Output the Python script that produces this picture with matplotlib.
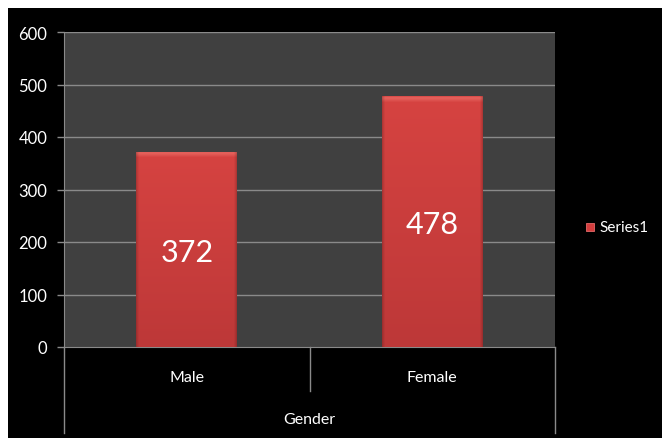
import numpy as np
import matplotlib
matplotlib.use("Agg")
import matplotlib.pyplot as plt
from matplotlib.patches import Rectangle
from matplotlib.colors import to_rgb

categories = ["Male", "Female"]
values = [372, 478]
group_label = "Gender"
series_name = "Series1"
y_ticks = [0, 100, 200, 300, 400, 500, 600]

W, H = 662, 439
fig = plt.figure(figsize=(W / 100, H / 100), dpi=100, facecolor="white")
plt.rcParams["font.family"] = ["Lato", "DejaVu Sans"]

# black chart background, leaving a thin white margin at top and left
fig.add_artist(Rectangle((8 / W, 0), 1 - 8 / W, 1 - 9 / H,
                         transform=fig.transFigure, facecolor="black",
                         edgecolor="none", zorder=-10))

left, right, top, bottom = 64, 555, 33, 348
ax = fig.add_axes([left / W, 1 - bottom / H, (right - left) / W, (bottom - top) / H])
ax.set_facecolor("#404040")
grid_c = "#8a8a8a"

x = np.arange(len(categories))
ax.set_xlim(-0.5, len(categories) - 0.5)
ax.set_ylim(0, 600)
ax.set_yticks(y_ticks)
ax.set_yticklabels([str(t) for t in y_ticks])
ax.tick_params(axis="y", colors=grid_c, labelcolor="white", labelsize=12,
               length=5, width=1, pad=7)
ax.set_xticks([])
for t in y_ticks[1:]:
    ax.axhline(t, color=grid_c, lw=1, zorder=1)
for s in ["top", "right"]:
    ax.spines[s].set_visible(False)
ax.spines["left"].set_color(grid_c)
ax.spines["bottom"].set_color(grid_c)

px_per_unit = (bottom - top) / 600.0

def bar_shading(height_px, width_px):
    """Red fill: gentle vertical gradient, a thin bright bevel at the top,
    slightly darker side edges."""
    rows = max(int(round(height_px)), 8)
    cols = max(int(round(width_px)), 8)
    lo, hi = np.array(to_rgb("#bd3838")), np.array(to_rgb("#d64341"))
    t = np.linspace(0, 1, rows)[:, None]
    img = lo + (hi - lo) * t[..., None] * np.ones((1, cols, 1))
    bevel = np.array(to_rgb("#e5625c"))
    for k, a in zip(range(1, 7), [0.35, 0.9, 0.9, 0.7, 0.45, 0.2]):
        img[rows - k] = img[rows - k] * (1 - a) + bevel * a
    edge = np.ones(cols)
    edge[:3] = [0.82, 0.9, 0.96]
    edge[-3:] = [0.96, 0.9, 0.82]
    img = img * edge[None, :, None]
    return np.clip(img, 0, 1)

bar_w = 0.41
bars = ax.bar(x, values, width=bar_w, color="#cc3c3c", edgecolor="none", zorder=2)
x_px_per_unit = (right - left) / len(categories)
for b in bars:
    x0, w, h = b.get_x(), b.get_width(), b.get_height()
    im = ax.imshow(bar_shading(h * px_per_unit, w * x_px_per_unit), origin="lower",
                   aspect="auto", extent=(x0, x0 + w, 0, h), zorder=3,
                   interpolation="nearest")
    im.set_clip_path(b)
for xi, v in zip(x, values):
    ax.text(xi, v / 2 - 5, str(v), ha="center", va="center", color="white",
            fontsize=22, zorder=4)

# two-level category axis below the plot
tr = ax.get_xaxis_transform()
axes_h = bottom - top
def yfrac(py):
    return (bottom - py) / axes_h
for xb in [-0.5, len(categories) - 0.5]:
    ax.plot([xb, xb], [0, yfrac(434)], transform=tr, color=grid_c, lw=1, clip_on=False)
for xb in np.arange(0.5, len(categories) - 0.5):
    ax.plot([xb, xb], [0, yfrac(392)], transform=tr, color=grid_c, lw=1, clip_on=False)
for xi, c in zip(x, categories):
    ax.text(xi, yfrac(378), c, transform=tr, ha="center", va="center",
            color="white", fontsize=11.5)
ax.text((len(categories) - 1) / 2, yfrac(420), group_label, transform=tr,
        ha="center", va="center", color="white", fontsize=11.5)

# legend
fig.add_artist(Rectangle((586 / W, 1 - 232 / H), 8 / W, 8 / H, transform=fig.transFigure,
                         facecolor="#d43e3e", edgecolor="#e56a6a", lw=0.6))
fig.text(599 / W, 1 - 228 / H, series_name, color="white", fontsize=11, va="center", ha="left")

fig.savefig("out.png", dpi=100, facecolor=fig.get_facecolor())
